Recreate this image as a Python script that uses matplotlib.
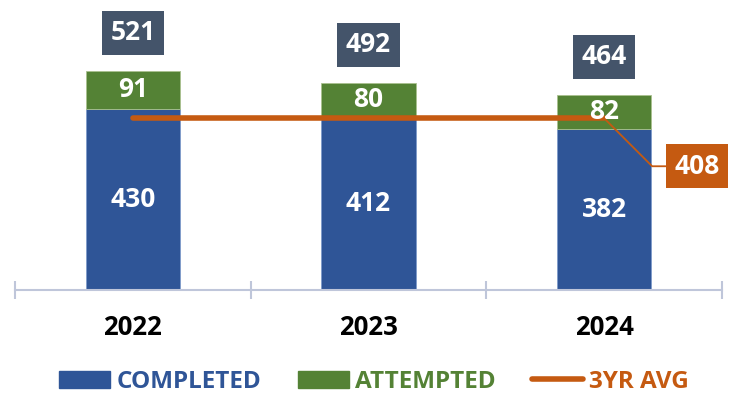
import matplotlib
matplotlib.use("Agg")
import matplotlib.pyplot as plt
from matplotlib.patches import Patch
from matplotlib.lines import Line2D

years = ["2022", "2023", "2024"]
completed = [430, 412, 382]
attempted = [91, 80, 82]
avg_value = 408

C_BLUE = "#2F5597"
C_GREEN = "#548235"
C_SLATE = "#44546A"
C_ORANGE = "#C55A11"
C_AXIS = "#BFC6DA"

plt.rcParams['font.family'] = ['Open Sans', 'DejaVu Sans']

fig = plt.figure(figsize=(7.36, 3.93), dpi=100)
ax = fig.add_axes([15/736, (393-290)/393, 707/736, 290/393])
x = list(range(len(years)))
totals = [c + a for c, a in zip(completed, attempted)]

ax.bar(x, completed, width=0.40, color=C_BLUE, edgecolor="#7F9BCB", linewidth=0.6, zorder=2)
ax.bar(x, attempted, width=0.40, bottom=completed, color=C_GREEN, edgecolor="#A9C18F", linewidth=0.6, zorder=2)

FS = 19
for xi, c, a, t in zip(x, completed, attempted, totals):
    ax.text(xi, c/2, str(c), ha='center', va='center', color='white', fontsize=FS, fontweight='bold', zorder=5)
    ax.text(xi, c + a/2, str(a), ha='center', va='center', color='white', fontsize=FS, fontweight='bold', zorder=5)
    ax.annotate(str(t), xy=(xi, t), xytext=(0, 38), textcoords='offset pixels',
                ha='center', va='center', color='white', fontsize=FS, fontweight='bold',
                bbox=dict(boxstyle='square,pad=0.32', fc=C_SLATE, ec='none'), zorder=5)

ax.plot([x[0], x[-1]], [avg_value, avg_value], color=C_ORANGE, lw=4, solid_capstyle='round', zorder=3)
ax.annotate(str(avg_value), xy=(x[-1], avg_value), xytext=(2.393, 294), textcoords='data',
            ha='center', va='center', color='white', fontsize=FS, fontweight='bold',
            bbox=dict(boxstyle='square,pad=0.32', fc=C_ORANGE, ec='none'),
            arrowprops=dict(arrowstyle='-', color=C_ORANGE, lw=1.3, shrinkA=0, shrinkB=0,
                            connectionstyle='angle,angleA=0,angleB=-45,rad=0'),
            zorder=6)

ax.set_xlim(-0.5, 2.5)
ax.set_ylim(0, 689)
for s in ['top', 'right', 'left']:
    ax.spines[s].set_visible(False)
ax.spines['bottom'].set_color(C_AXIS)
ax.spines['bottom'].set_linewidth(1.5)
ax.set_yticks([])
ax.set_xticks([-0.5, 0.5, 1.5, 2.5], minor=False)
ax.set_xticklabels([])
ax.tick_params(axis='x', which='major', direction='inout', length=13, width=1.5, color=C_AXIS)
ax.set_xticks(x, minor=True)
ax.set_xticklabels(years, minor=True, fontsize=18.5, fontweight='bold', color='black')
ax.tick_params(axis='x', which='minor', length=0, pad=17)

handles = [Patch(color=C_BLUE), Patch(color=C_GREEN), Line2D([0], [0], color=C_ORANGE, lw=4, solid_capstyle='round')]
labels = ["COMPLETED", "ATTEMPTED", "3YR AVG"]
leg = fig.legend(handles, labels, loc='center', bbox_to_anchor=(0.5 + 6/736, 1 - 382/393), ncol=3, frameon=False,
                 prop=dict(size=17.5, weight='bold'), handlelength=2.1, handletextpad=0.25, columnspacing=1.5)
for txt, col in zip(leg.get_texts(), [C_BLUE, C_GREEN, C_ORANGE]):
    txt.set_color(col)

fig.savefig("out.png", dpi=100)
